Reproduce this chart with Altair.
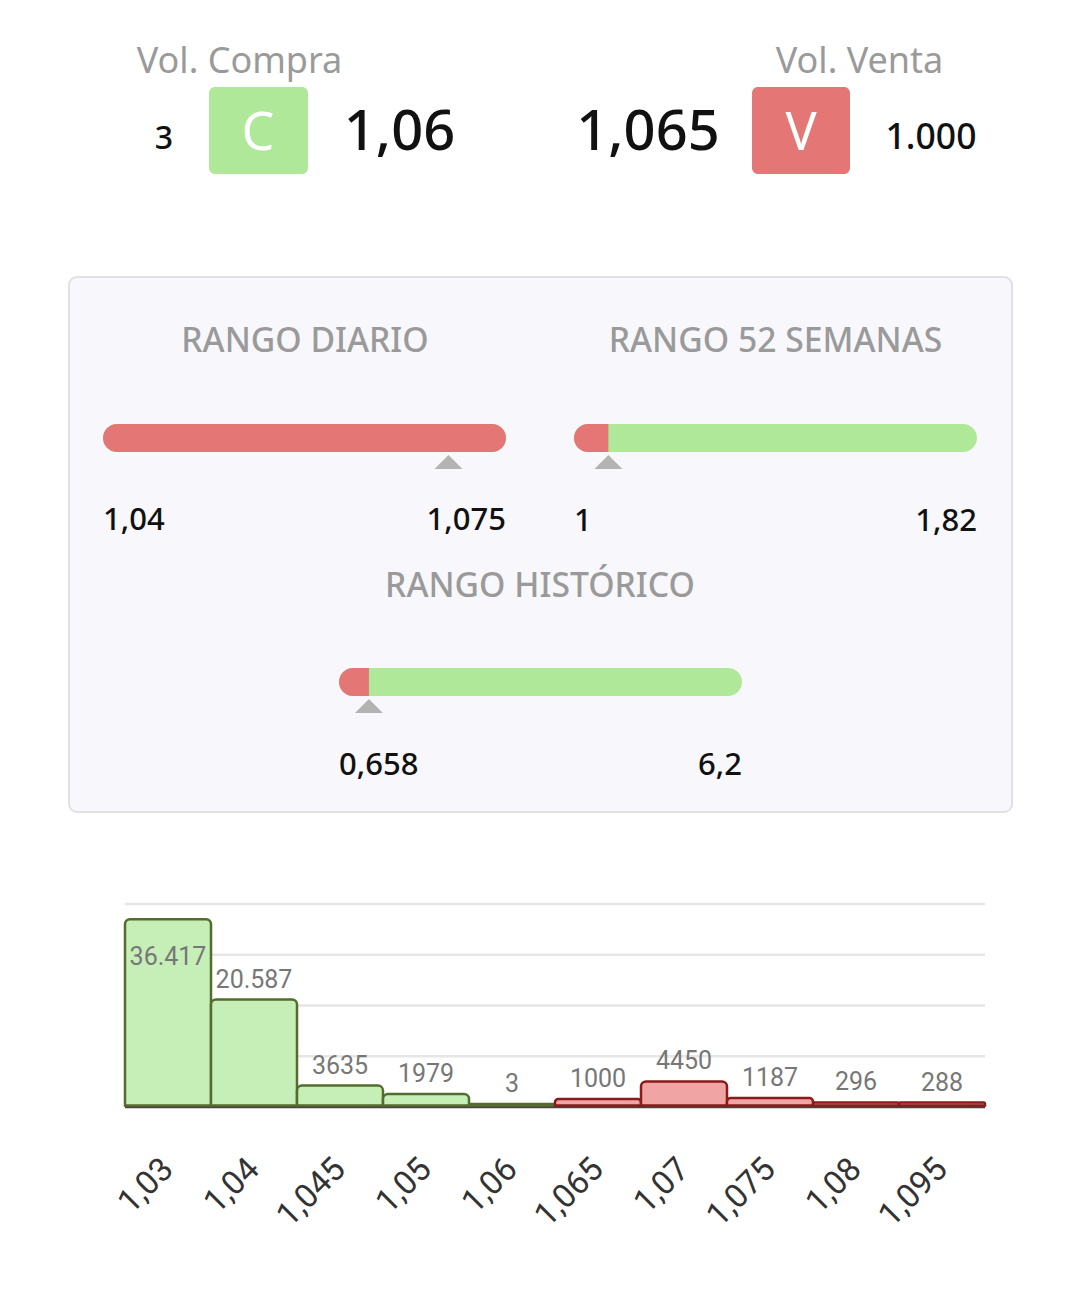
import altair as alt
import pandas as pd

# ---------------- data ----------------
header_titles = ["Vol. Compra", "Vol. Venta"]
buy_volume = "3"
buy_price = "1,06"
sell_price = "1,065"
sell_volume = "1.000"
buy_tag = "C"
sell_tag = "V"

range_titles = ["RANGO DIARIO", "RANGO 52 SEMANAS", "RANGO HISTÓRICO"]
range_low = [1.04, 1.0, 0.658]
range_high = [1.075, 1.82, 6.2]
range_last = [1.07, 1.07, 1.07]
range_red_to = [1.075, 1.07, 1.07]
range_low_labels = ["1,04", "1", "0,658"]
range_high_labels = ["1,075", "1,82", "6,2"]

prices = ["1,03", "1,04", "1,045", "1,05", "1,06", "1,065", "1,07", "1,075", "1,08", "1,095"]
volumes = [36417, 20587, 3635, 1979, 3, 1000, 4450, 1187, 296, 288]
volume_labels = ["36.417", "20.587", "3635", "1979", "3", "1000", "4450", "1187", "296", "288"]
sides = ["C", "C", "C", "C", "C", "V", "V", "V", "V", "V"]
grid_values = [10000, 20000, 30000, 40000]

# ---------------- style ----------------
OFF = 8  # page margin
GREEN = "#b0e89a"
RED = "#e47676"
GRAY_T = "#9a9a9a"
HFONT = "Noto Sans"
CFONT = "Roboto"


def P(v):
    return v - OFF


def text_layer(value, x, y, size, color, font=HFONT, align="center", weight=400):
    return alt.Chart(pd.DataFrame({"t": [value]})).mark_text(
        align=align, baseline="alphabetic", fontSize=size, color=color,
        font=font, fontWeight=weight
    ).encode(x=alt.value(P(x)), y=alt.value(P(y)), text="t:N")


def rect_layer(x0, x1, y0, y1, fill, radius, stroke=None, sw=0):
    kw = dict(fill=fill, cornerRadius=radius)
    if stroke:
        kw.update(stroke=stroke, strokeWidth=sw)
    return alt.Chart(pd.DataFrame({"k": [0]})).mark_rect(**kw).encode(
        x=alt.value(P(x0)), x2=alt.value(P(x1)), y=alt.value(P(y0)), y2=alt.value(P(y1))
    )


layers = []

# ---------------- header ----------------
layers.append(text_layer(header_titles[0], 239.5, 73, 36, GRAY_T))
layers.append(text_layer(header_titles[1], 859.5, 73, 36, GRAY_T))
layers.append(text_layer(buy_volume, 164, 149, 32, "#111", weight=500))
layers.append(rect_layer(209, 308, 87, 174, GREEN, 6))
layers.append(text_layer(buy_tag, 258, 150, 52, "white"))
layers.append(text_layer(buy_price, 399.5, 150, 56, "#111", weight=500))
layers.append(text_layer(sell_price, 648, 150, 56, "#111", weight=500))
layers.append(rect_layer(752, 850, 87, 174, RED, 6))
layers.append(text_layer(sell_tag, 801, 150, 52, "white"))
layers.append(text_layer(sell_volume, 931, 149, 35.5, "#111", weight=500))

# ---------------- range panel ----------------
layers.append(rect_layer(69, 1012, 277, 812, "#f8f8fc", 8, stroke="#e0e0e6", sw=2))

title_pos = [(305, 352), (775.5, 352), (540, 597)]
bar_pos = [(103, 506, 438, 462, 530), (574, 977, 438, 462, 531), (339, 742, 682, 706, 775)]
TRI = "M-1,0.5L0,-0.5L1,0.5Z"

for i in range(3):
    tx, ty = title_pos[i]
    layers.append(text_layer(range_titles[i], tx, ty, 33.7, GRAY_T, weight=500))
    bx0, bx1, by, tyy, ly = bar_pos[i]
    df = pd.DataFrame({
        "low": [range_low[i]], "high": [range_high[i]], "last": [range_last[i]],
        "red": [range_red_to[i]], "lo_lab": [range_low_labels[i]], "hi_lab": [range_high_labels[i]],
    })
    sc = alt.Scale(domain=[range_low[i], range_high[i]], range=[P(bx0), P(bx1)], nice=False, zero=False)
    base = alt.Chart(df)
    full_red = range_red_to[i] >= range_high[i]
    green = base.mark_rect(color=GREEN, cornerRadius=14).encode(
        x=alt.X("low:Q", scale=sc, axis=None), x2="high:Q",
        y=alt.value(P(by - 14)), y2=alt.value(P(by + 14)))
    red = base.mark_rect(
        color=RED, cornerRadiusTopLeft=14, cornerRadiusBottomLeft=14,
        cornerRadiusTopRight=14 if full_red else 0, cornerRadiusBottomRight=14 if full_red else 0
    ).encode(
        x=alt.X("low:Q", scale=sc, axis=None), x2="red:Q",
        y=alt.value(P(by - 14)), y2=alt.value(P(by + 14)))
    tri = base.mark_point(shape=TRI, filled=True, size=784, color="#b3b3b3", opacity=1, strokeWidth=0).encode(
        x=alt.X("last:Q", scale=sc, axis=None), y=alt.value(P(tyy)))
    lo = base.mark_text(align="left", baseline="alphabetic", fontSize=31, font=HFONT, fontWeight=500,
                        color="#111").encode(
        x=alt.X("low:Q", scale=sc, axis=None), y=alt.value(P(ly)), text="lo_lab:N")
    hi = base.mark_text(align="right", baseline="alphabetic", fontSize=31, font=HFONT, fontWeight=500,
                        color="#111").encode(
        x=alt.X("high:Q", scale=sc, axis=None), y=alt.value(P(ly)), text="hi_lab:N")
    layers.append(alt.layer(green, red, tri, lo, hi))

# ---------------- order book histogram ----------------
bdf = pd.DataFrame({"price": prices, "vol": volumes, "lab": volume_labels, "side": sides})
xs = alt.Scale(domain=prices, range=[P(125), P(985)], paddingInner=0, paddingOuter=0)
ys = alt.Scale(domain=[0, 40000], range=[P(1107), P(904)], nice=False, zero=True)

grid = alt.Chart(pd.DataFrame({"g": grid_values})).mark_rule(color="#e6e6e6", strokeWidth=2.5).encode(
    y=alt.Y("g:Q", scale=ys, axis=None), x=alt.value(P(125)), x2=alt.value(P(985)))
baseline = alt.Chart(pd.DataFrame({"z": [0]})).mark_rule(color="#444", strokeWidth=2.5).encode(
    y=alt.Y("z:Q", scale=ys, axis=None), x=alt.value(P(125)), x2=alt.value(P(985)))
bars = alt.Chart(bdf).mark_bar(cornerRadiusTopLeft=5, cornerRadiusTopRight=5, strokeWidth=2.5,
                               yOffset=-3).encode(
    x=alt.X("price:N", scale=xs, axis=None, sort=prices),
    y=alt.Y("vol:Q", scale=ys, axis=None, stack=None),
    y2=alt.value(P(1105.5)),
    fill=alt.Fill("side:N", scale=alt.Scale(domain=["C", "V"], range=["#c6efb7", "#f1a4a4"]), legend=None),
    stroke=alt.Stroke("side:N", scale=alt.Scale(domain=["C", "V"], range=["#556b2f", "#8b1a1a"]), legend=None),
)
vlabels = alt.Chart(bdf).transform_calculate(ly="min(datum.vol, 25000)").mark_text(
    baseline="alphabetic", dy=-15, fontSize=25, font=CFONT, color="#777"
).encode(x=alt.X("price:N", scale=xs, axis=None, sort=prices),
         y=alt.Y("ly:Q", scale=ys, axis=None), text="lab:N")
ticks = alt.Chart(bdf).mark_text(
    angle=315, align="right", baseline="middle", fontSize=33, font=CFONT, color="#333"
).encode(x=alt.X("price:N", scale=xs, axis=None, sort=prices),
         y=alt.value(P(1164)), text="price:N")

layers.append(alt.layer(grid, baseline, bars, vlabels, ticks))

chart = alt.layer(*layers).resolve_scale(
    x="independent", y="independent", fill="independent", stroke="independent"
).properties(
    width=1064, height=1298, autosize=alt.AutoSizeParams(type="none"), padding=0, background="white"
).configure_view(stroke=None)

chart.save("out.html", embed_options={"renderer": "svg", "actions": False})
